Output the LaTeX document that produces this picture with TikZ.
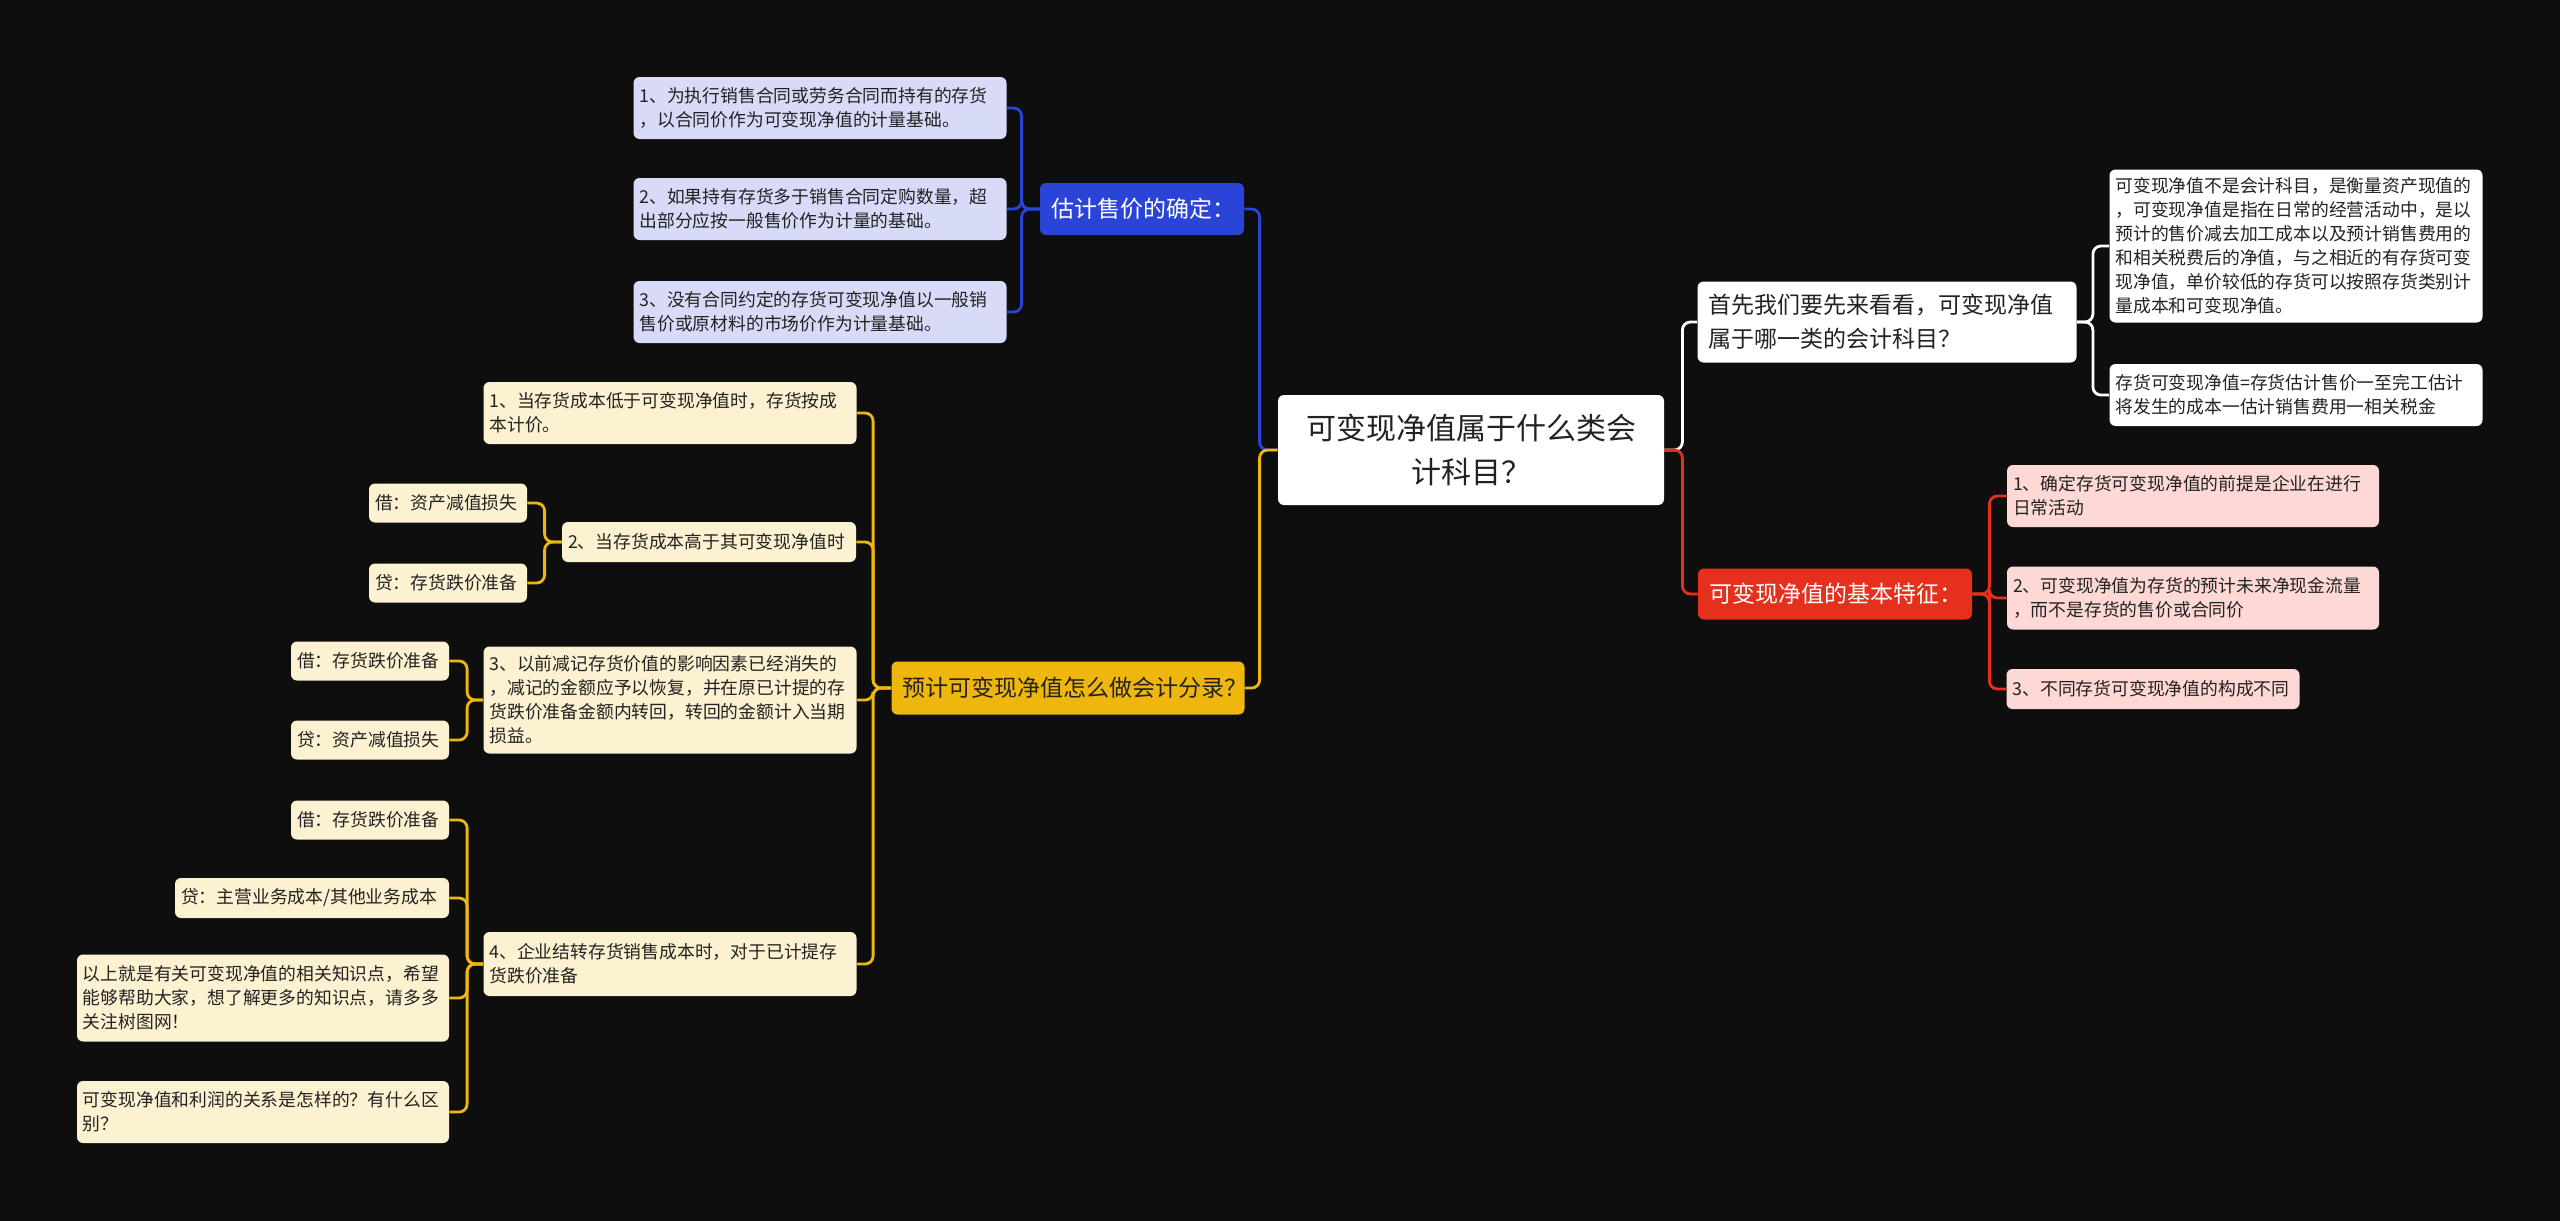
\documentclass[tikz,border=0pt]{standalone}
\usepackage{fontspec}
\setmainfont{Noto Sans CJK SC}
\usetikzlibrary{positioning}

\definecolor{fond}{HTML}{0E0E0E}
\definecolor{texte}{HTML}{222222}
\definecolor{bleu}{HTML}{2A44D8}
\definecolor{lavande}{HTML}{D8DBF8}
\definecolor{jaune}{HTML}{EFB70E}
\definecolor{creme}{HTML}{FCF1D0}
\definecolor{rouge}{HTML}{E6301E}
\definecolor{rose}{HTML}{FDD8D4}

\begin{document}
\begin{tikzpicture}[
    x=0.5pt,
    y=-0.5pt,
    racine/.style={
        rectangle,
        rounded corners=3pt,
        fill=white,
        text=texte,
        align=center,
        inner xsep=6pt,
        inner ysep=0pt,
        font=\fontsize{15}{22}\selectfont
    },
    branche/.style={
        rectangle,
        rounded corners=3pt,
        align=left,
        inner xsep=5.5pt,
        inner ysep=0pt,
        font=\fontsize{11.5}{17}\selectfont
    },
    feuille/.style={
        rectangle,
        rounded corners=3pt,
        align=left,
        inner xsep=3pt,
        inner ysep=0pt,
        text=texte,
        font=\fontsize{8.9}{12}\selectfont
    },
    lien/.style={
        line width=1.4pt,
        rounded corners=4pt
    }
]

\fill[fond] (0,0) rectangle (2560,1221);
\useasboundingbox (0,0) rectangle (2560,1221);

\node[racine, text width=181pt, minimum height=55pt] (racine) at (1471,450)
{可变现净值属于什么类会\\计科目？};

\node[branche, fill=bleu, text=white, text width=91pt, minimum height=26pt] (estim) at (1142,209)
{估计售价的确定：};
\node[feuille, fill=lavande, text width=180.5pt, minimum height=31pt] (b1) at (820,108)
{1、为执行销售合同或劳务合同而持有的存货\\，以合同价作为可变现净值的计量基础。};
\node[feuille, fill=lavande, text width=180.5pt, minimum height=31pt] (b2) at (820,209)
{2、如果持有存货多于销售合同定购数量，超\\出部分应按一般售价作为计量的基础。};
\node[feuille, fill=lavande, text width=180.5pt, minimum height=31pt] (b3) at (820,312)
{3、没有合同约定的存货可变现净值以一般销\\售价或原材料的市场价作为计量基础。};

\node[branche, fill=jaune, text=texte, text width=165.5pt, minimum height=26.5pt] (ecrit) at (1068,688)
{预计可变现净值怎么做会计分录？};
\node[feuille, fill=creme, text width=180.5pt, minimum height=31pt] (y1) at (670,413)
{1、当存货成本低于可变现净值时，存货按成\\本计价。};
\node[feuille, fill=creme, text width=141pt, minimum height=20pt] (y2) at (709,542)
{2、当存货成本高于其可变现净值时};
\node[feuille, fill=creme, text width=73pt, minimum height=19.5pt] (y2a) at (448,503)
{借：资产减值损失};
\node[feuille, fill=creme, text width=73pt, minimum height=19.5pt] (y2b) at (448,583)
{贷：存货跌价准备};
\node[feuille, fill=creme, text width=180.5pt, minimum height=53.5pt] (y3) at (670,700)
{3、以前减记存货价值的影响因素已经消失的\\，减记的金额应予以恢复，并在原已计提的存\\货跌价准备金额内转回，转回的金额计入当期\\损益。};
\node[feuille, fill=creme, text width=73pt, minimum height=19.5pt] (y3a) at (370,661)
{借：存货跌价准备};
\node[feuille, fill=creme, text width=73pt, minimum height=19.5pt] (y3b) at (370,740)
{贷：资产减值损失};
\node[feuille, fill=creme, text width=180.5pt, minimum height=32pt] (y4) at (670,964)
{4、企业结转存货销售成本时，对于已计提存\\货跌价准备};
\node[feuille, fill=creme, text width=73pt, minimum height=19.5pt] (y4a) at (370,820)
{借：存货跌价准备};
\node[feuille, fill=creme, text width=131pt, minimum height=20pt] (y4b) at (312,898)
{贷：主营业务成本/其他业务成本};
\node[feuille, fill=creme, text width=180pt, minimum height=43.5pt] (y4c) at (263,998)
{以上就是有关可变现净值的相关知识点，希望\\能够帮助大家，想了解更多的知识点，请多多\\关注树图网！};
\node[feuille, fill=creme, text width=180pt, minimum height=31pt] (y4d) at (263,1112)
{可变现净值和利润的关系是怎样的？有什么区\\别？};

\node[branche, fill=white, text=texte, text width=178.5pt, minimum height=40.5pt] (compte) at (1887,322)
{首先我们要先来看看，可变现净值\\属于哪一类的会计科目？};
\node[feuille, fill=white, text width=180.5pt, minimum height=76.5pt] (w1) at (2296,246)
{可变现净值不是会计科目，是衡量资产现值的\\，可变现净值是指在日常的经营活动中，是以\\预计的售价减去加工成本以及预计销售费用的\\和相关税费后的净值，与之相近的有存货可变\\现净值，单价较低的存货可以按照存货类别计\\量成本和可变现净值。};
\node[feuille, fill=white, text width=180.5pt, minimum height=31pt] (w2) at (2296,395)
{存货可变现净值=存货估计售价一至完工估计\\将发生的成本一估计销售费用一相关税金};

\node[branche, fill=rouge, text=white, text width=126pt, minimum height=25.5pt] (traits) at (1835,594)
{可变现净值的基本特征：};
\node[feuille, fill=rose, text width=180pt, minimum height=31pt] (r1) at (2193,496)
{1、确定存货可变现净值的前提是企业在进行\\日常活动};
\node[feuille, fill=rose, text width=180pt, minimum height=31.5pt] (r2) at (2193,598)
{2、可变现净值为存货的预计未来净现金流量\\，而不是存货的售价或合同价};
\node[feuille, fill=rose, text width=140.5pt, minimum height=20pt] (r3) at (2153,689)
{3、不同存货可变现净值的构成不同};

\draw[lien, bleu] (racine.west) -- ++(-18,0) |- (estim.east);
\draw[lien, jaune] (racine.west) -- ++(-18,0) |- (ecrit.east);
\draw[lien, white] (racine.east) -- ++(18,0) |- (compte.west);
\draw[lien, rouge] (racine.east) -- ++(18,0) |- (traits.west);

\foreach \n in {b1,b2,b3}
    \draw[lien, bleu] (estim.west) -- ++(-18,0) |- (\n.east);
\foreach \n in {y1,y2,y3,y4}
    \draw[lien, jaune] (ecrit.west) -- ++(-18,0) |- (\n.east);
\foreach \n in {y2a,y2b}
    \draw[lien, jaune] (y2.west) -- ++(-17,0) |- (\n.east);
\foreach \n in {y3a,y3b}
    \draw[lien, jaune] (y3.west) -- ++(-16,0) |- (\n.east);
\foreach \n in {y4a,y4b,y4c,y4d}
    \draw[lien, jaune] (y4.west) -- ++(-16,0) |- (\n.east);
\foreach \n in {w1,w2}
    \draw[lien, white] (compte.east) -- ++(16,0) |- (\n.west);
\foreach \n in {r1,r2,r3}
    \draw[lien, rouge] (traits.east) -- ++(17,0) |- (\n.west);

\end{tikzpicture}
\end{document}
